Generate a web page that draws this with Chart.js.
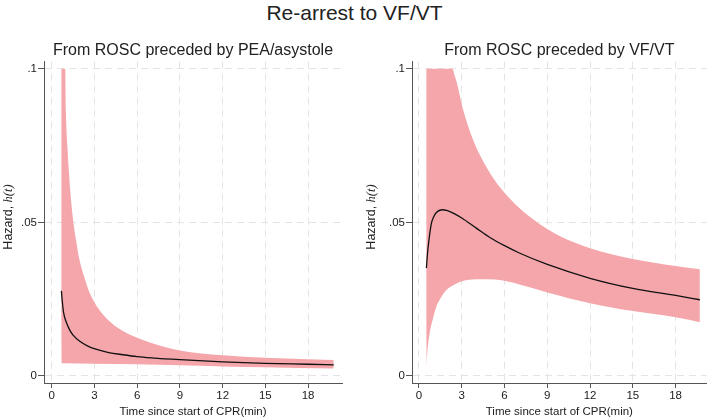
<!DOCTYPE html>
<html>
<head>
<meta charset="utf-8">
<script src="https://cdn.jsdelivr.net/npm/chart.js@4.4.0/dist/chart.umd.min.js"></script>
<style>
  body { margin: 0; background: #fff; }
  #wrap { position: relative; width: 709px; height: 419px; }
  #main-title { position: absolute; left: 0; top: 1px; width: 709px; text-align: center;
    font: 21px "Liberation Sans", Arial, sans-serif; line-height: 24px; color: #222; }
  canvas { position: absolute; top: 0; }
</style>
</head>
<body>
<div id="wrap">
  <div id="main-title">Re-arrest to VF/VT</div>
  <canvas id="chart-pea" width="355" height="419" style="left:0"></canvas>
  <canvas id="chart-vf" width="354" height="419" style="left:355px"></canvas>
</div>
<script>
// tick values / labels
const xTicks = [0, 3, 6, 9, 12, 15, 18];
const yTicks = [0, 0.05, 0.1];
const yTickLabels = ['0', '.05', '.1'];

// left panel: ROSC preceded by PEA/asystole
const peaUpperT = [0.44, 0.95, 1.0, 1.1, 1.2, 1.45, 1.7, 1.92, 2.3, 2.67, 3.3, 4.2, 5, 6, 7, 9, 12, 15, 19.8];
const peaUpperV = [0.1, 0.1, 0.086, 0.075, 0.067, 0.053, 0.0445, 0.0385, 0.032, 0.027, 0.0218, 0.0172, 0.0146, 0.0124, 0.0107, 0.0083, 0.0067, 0.0059, 0.0052];
const peaLowerT = [0.68, 3, 6, 9, 12, 15, 19.8];
const peaLowerV = [0.0041, 0.0040, 0.0038, 0.0035, 0.0031, 0.0028, 0.0024];
const peaHazT = [0.68, 0.75, 0.84, 1.0, 1.26, 1.5, 2.0, 2.5, 3.1, 4, 5, 6, 7, 9, 12, 15, 18, 19.8];
const peaHazV = [0.0277, 0.0240, 0.0205, 0.0178, 0.0150, 0.0133, 0.0112, 0.0098, 0.0087, 0.0076, 0.0069, 0.0063, 0.0059, 0.0053, 0.0046, 0.0041, 0.0038, 0.0036];

// right panel: ROSC preceded by VF/VT
const vfUpperT = [0.28, 2.34, 2.5, 2.65, 3.1, 3.8, 4.4, 5.1, 6, 7, 8, 9, 10, 12, 15, 18, 19.7];
const vfUpperV = [0.1, 0.1, 0.0978, 0.0955, 0.0866, 0.0768, 0.0708, 0.0652, 0.0596, 0.0548, 0.0510, 0.0478, 0.0452, 0.0416, 0.0381, 0.0358, 0.0347];
const vfLowerT = [0.52, 0.6, 0.75, 1.0, 1.22, 1.5, 1.92, 2.5, 2.9, 3.5, 4.0, 4.8, 5.9, 7.5, 9, 12, 15, 18, 19.7];
const vfLowerV = [0.003, 0.0085, 0.0139, 0.019, 0.0226, 0.0252, 0.028, 0.0298, 0.0307, 0.0313, 0.0315, 0.0315, 0.0311, 0.0292, 0.0272, 0.0237, 0.0211, 0.0191, 0.0175];
const vfHazT = [0.52, 0.6, 0.7, 0.87, 1.0, 1.22, 1.62, 2.0, 2.4, 3, 4, 5, 6, 7, 9, 12, 15, 18, 19.7];
const vfHazV = [0.0351, 0.040, 0.0443, 0.0497, 0.0515, 0.0532, 0.0541, 0.0538, 0.0530, 0.0514, 0.0482, 0.0450, 0.0424, 0.0401, 0.0363, 0.0318, 0.0285, 0.0262, 0.0248];

const bandColor = '#f5a6aa';
const gridColor = '#e4e4e4';
const axisColor = '#555';
const fontFamily = '"Liberation Sans", Arial, sans-serif';

Chart.defaults.font.family = fontFamily;
Chart.defaults.color = '#222';

function pts(ts, vs) {
    return ts.map((t, i) => ({ x: t, y: vs[i] }));
}

// "Hazard, h(t)" with italic serif h(t)
const hazardLabel = {
    id: 'hazardLabel',
    afterDraw(chart, args, opts) {
        const ctx = chart.ctx;
        const a = 'Hazard, ', b = 'h(t)';
        const fa = '12.5px ' + fontFamily;
        const fb = 'italic 12.5px "Liberation Serif", "Times New Roman", serif';
        ctx.save();
        ctx.translate(opts.x, opts.y);
        ctx.rotate(-Math.PI / 2);
        ctx.fillStyle = '#222';
        ctx.textBaseline = 'middle';
        ctx.textAlign = 'left';
        ctx.font = fa;
        const wa = ctx.measureText(a).width;
        ctx.font = fb;
        const wb = ctx.measureText(b).width;
        const x0 = -(wa + wb) / 2;
        ctx.font = fa;
        ctx.fillText(a, x0, 0);
        ctx.font = fb;
        ctx.fillText(b, x0 + wa, 0);
        ctx.restore();
    }
};

function makeChart(id, title, upper, lower, haz, xMin, xMax, yAxisW, padRight, labelX) {
    return new Chart(document.getElementById(id), {
        type: 'line',
        data: {
            datasets: [
                { data: upper, fill: '+1', backgroundColor: bandColor, borderColor: 'transparent', borderWidth: 0, pointRadius: 0, cubicInterpolationMode: 'monotone', order: 2 },
                { data: lower, fill: false, borderColor: 'transparent', borderWidth: 0, pointRadius: 0, cubicInterpolationMode: 'monotone', order: 2 },
                { data: haz, fill: false, borderColor: '#111', borderWidth: 1.3, pointRadius: 0, cubicInterpolationMode: 'monotone', order: 1 }
            ]
        },
        options: {
            responsive: false,
            animation: false,
            events: [],
            layout: { padding: { left: 0, right: padRight, top: 0, bottom: 0 } },
            scales: {
                x: {
                    type: 'linear',
                    min: xMin,
                    max: xMax,
                    afterBuildTicks: s => { s.ticks = xTicks.map(v => ({ value: v })); },
                    afterFit: s => { s.height = 36; },
                    ticks: { font: { size: 11.5 }, color: '#222', padding: 1, maxRotation: 0, autoSkip: false },
                    grid: { color: gridColor, lineWidth: 1, tickLength: 5, tickColor: axisColor, tickBorderDash: [] },
                    border: { color: axisColor, width: 1, dash: [7, 5] },
                    title: { display: true, text: 'Time since start of CPR(min)', font: { size: 11.5 }, color: '#222', padding: { top: 2, bottom: 0.5 } }
                },
                y: {
                    type: 'linear',
                    min: -0.0023,
                    max: 0.1023,
                    afterBuildTicks: s => { s.ticks = yTicks.map(v => ({ value: v })); },
                    afterFit: s => { s.width = yAxisW; },
                    ticks: { font: { size: 11.5 }, color: '#222', padding: 1, callback: (v, i) => yTickLabels[i] },
                    grid: { color: gridColor, lineWidth: 1, tickLength: 6, tickColor: axisColor, tickBorderDash: [] },
                    border: { color: axisColor, width: 1, dash: [7, 5] }
                }
            },
            plugins: {
                legend: { display: false },
                tooltip: { enabled: false },
                filler: { drawTime: 'beforeDatasetsDraw' },
                title: {
                    display: true,
                    text: title,
                    fullSize: false,
                    color: '#222',
                    font: { size: 16, weight: 'normal' },
                    padding: { top: 41.2, bottom: 1.3 }
                },
                hazardLabel: { x: labelX, y: 217 }
            }
        },
        plugins: [hazardLabel]
    });
}

makeChart('chart-pea', 'From ROSC preceded by PEA/asystole',
    pts(peaUpperT, peaUpperV), pts(peaLowerT, peaLowerV), pts(peaHazT, peaHazV),
    -0.54, 20.38, 44, 13, 8.5);

makeChart('chart-vf', 'From ROSC preceded by VF/VT',
    pts(vfUpperT, vfUpperV), pts(vfLowerT, vfLowerV), pts(vfHazT, vfHazV),
    -0.49, 20.18, 57, 2.3, 16.5);
</script>
</body>
</html>
